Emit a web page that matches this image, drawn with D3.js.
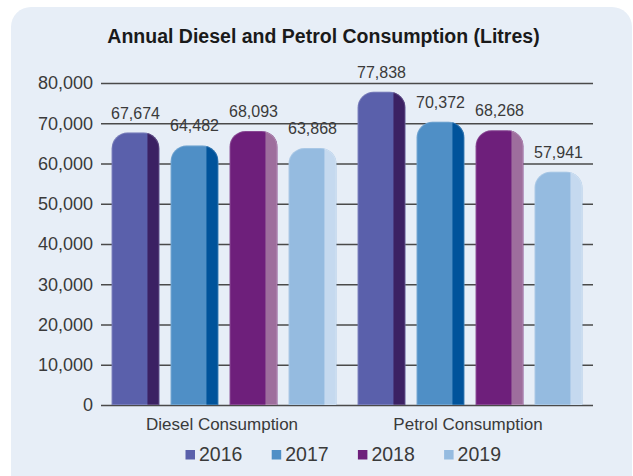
<!DOCTYPE html>
<html>
<head>
<meta charset="utf-8">
<script src="https://cdn.jsdelivr.net/npm/d3@7"></script>
<style>
  body { margin: 0; background: #fff; }
  text { font-family: "Liberation Sans", Arial, Helvetica, sans-serif; fill: #3a3a3a; }
</style>
</head>
<body>
<div id="chart"></div>
<script>
// data
const categories = ["Diesel Consumption", "Petrol Consumption"];
const years = ["2016", "2017", "2018", "2019"];
const diesel = [67674, 64482, 68093, 63868];
const petrol = [77838, 70372, 68268, 57941];
const yTicks = [0, 10000, 20000, 30000, 40000, 50000, 60000, 70000, 80000];

const mainColors = ["#5a60ab", "#4f8fc6", "#6e1f7b", "#95bbe0"];
const stripColors = ["#3b2163", "#00539b", "#9e6e9d", "#c5d9ef"];

const W = 633, H = 476;
const plot = { left: 101, right: 593, top: 83, bottom: 405 };

const svg = d3.select("#chart").append("svg")
  .attr("width", W)
  .attr("height", H);

// panel background
svg.append("rect")
  .attr("x", 11).attr("y", 7)
  .attr("width", 621).attr("height", 489)
  .attr("rx", 20).attr("ry", 20)
  .attr("fill", "#e7eef7");

svg.append("text")
  .attr("x", 323.5).attr("y", 43)
  .attr("text-anchor", "middle")
  .style("font-weight", "bold")
  .style("font-size", "19.5px")
  .style("fill", "#1a1a1a")
  .text("Annual Diesel and Petrol Consumption (Litres)");

const x0 = d3.scaleBand()
  .domain(categories)
  .range([plot.left, plot.right])
  .padding(0);

const x1 = d3.scaleBand()
  .domain(years)
  .range([0, x0.bandwidth()])
  .paddingInner(0.19)
  .paddingOuter(0.18);

const y = d3.scaleLinear()
  .domain([0, 80000])
  .range([plot.bottom, plot.top]);

// y axis + gridlines
const yAxis = svg.append("g")
  .attr("transform", "translate(" + plot.left + ",0)")
  .call(d3.axisLeft(y)
    .tickValues(yTicks)
    .tickSize(-(plot.right - plot.left))
    .tickPadding(8)
    .tickFormat(d3.format(",")));
yAxis.select(".domain").remove();
yAxis.selectAll(".tick line")
  .attr("stroke", "#4a4a4a")
  .attr("stroke-width", 1.5);
yAxis.selectAll(".tick text")
  .style("font-size", "18px")
  .style("font-family", "\"Liberation Sans\", Arial, sans-serif")
  .attr("fill", "#3a3a3a");

// bars
const rows = [];
categories.forEach(function(c, ci) {
  const vals = ci === 0 ? diesel : petrol;
  years.forEach(function(yr, i) {
    rows.push({ cat: c, year: yr, i: i, value: vals[i], id: ci * 4 + i });
  });
});

function barPath(bx, by, w, h, r) {
  return "M" + bx + "," + (by + h) +
    "V" + (by + r) +
    "A" + r + "," + r + " 0 0 1 " + (bx + r) + "," + by +
    "H" + (bx + w - r) +
    "A" + r + "," + r + " 0 0 1 " + (bx + w) + "," + (by + r) +
    "V" + (by + h) + "Z";
}

const bw = x1.bandwidth();
const radius = 16;
const defs = svg.append("defs");

const bars = svg.append("g").selectAll("g")
  .data(rows)
  .join("g");

bars.each(function(d) {
  const g = d3.select(this);
  const bx = x0(d.cat) + x1(d.year);
  const by = y(d.value);
  const h = y(0) - by;
  const p = barPath(bx, by, bw, h, radius);

  defs.append("clipPath")
    .attr("id", "clip" + d.id)
    .append("path")
    .attr("d", p);

  g.append("path")
    .attr("d", p)
    .attr("fill", mainColors[d.i]);

  g.append("rect")
    .attr("clip-path", "url(#clip" + d.id + ")")
    .attr("x", bx + bw * 0.75)
    .attr("y", by)
    .attr("width", bw * 0.25)
    .attr("height", h)
    .attr("fill", stripColors[d.i]);

  // faint highlight along the rounded top
  g.append("path")
    .attr("clip-path", "url(#clip" + d.id + ")")
    .attr("d", p)
    .attr("fill", "none")
    .attr("stroke", "#fff")
    .attr("stroke-opacity", 0.18)
    .attr("stroke-width", 2);

  g.append("text")
    .attr("x", bx + bw / 2)
    .attr("y", by - 14)
    .attr("text-anchor", "middle")
    .style("font-size", "16px")
    .text(d3.format(",")(d.value));
});

// category labels
svg.append("g").selectAll("text")
  .data(categories)
  .join("text")
  .attr("x", function(d) { return x0(d) + x0.bandwidth() / 2 - 2; })
  .attr("y", 430)
  .attr("text-anchor", "middle")
  .style("font-size", "17px")
  .text(function(d) { return d; });

// legend
const legend = svg.append("g").selectAll("g")
  .data(years)
  .join("g")
  .attr("transform", function(d, i) { return "translate(" + (185.5 + i * 86.2) + ",450)"; });

legend.append("rect")
  .attr("width", 9.5)
  .attr("height", 9.5)
  .attr("fill", function(d, i) { return mainColors[i]; });

legend.append("text")
  .attr("x", 13.5)
  .attr("y", 10.5)
  .style("font-size", "19.5px")
  .text(function(d) { return d; });
</script>
</body>
</html>
